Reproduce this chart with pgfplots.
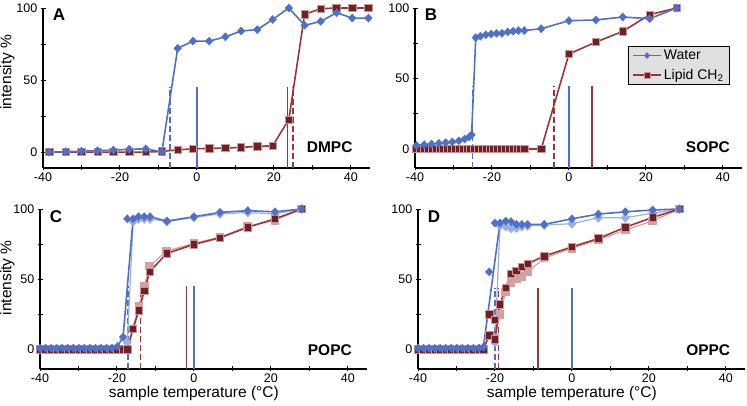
\documentclass[border=0pt]{standalone}
\usepackage{fontspec}
\setmainfont{Liberation Sans}
\usepackage{pgfplots}
\pgfplotsset{compat=1.18}

\definecolor{wblue}{RGB}{80,112,200}
\definecolor{lred}{RGB}{158,52,52}
\definecolor{sqred}{RGB}{112,32,36}
\definecolor{sqedge}{RGB}{205,150,150}
\definecolor{gblue}{RGB}{155,175,222}
\definecolor{gred}{RGB}{214,160,160}

\tikzset{
  letter/.style={anchor=north west, inner sep=0pt, font=\bfseries\fontsize{17}{20}\selectfont},
  lipname/.style={anchor=base east, inner sep=0pt, font=\bfseries\fontsize{15.5}{18}\selectfont},
}

\pgfplotsset{
  panel/.style={
    scale only axis, width=327pt, height=160pt,
    anchor=south west,
    xmin=-40, xmax=45, ymax=100,
    axis x line*=bottom, axis y line*=left,
    axis line style={-, line width=1.1pt},
    every tick/.style={black, line width=0.9pt},
    tick align=center, major tick length=5pt, minor tick length=5pt,
    xtick={-40,-20,0,20,40}, minor xtick={-30,-10,10,30},
    ytick={0,50,100}, minor ytick={25,75},
    tick label style={font=\fontsize{12.5}{14}\selectfont},
    /pgf/number format/assume math mode=true,
    xticklabel style={anchor=north, inner sep=0pt, yshift=-2pt},
    yticklabel style={anchor=east, inner sep=0pt, xshift=-3pt},
    label style={font=\fontsize{15.5}{18}\selectfont},
    ylabel style={anchor=south, inner sep=0pt},
    xlabel style={at={(axis description cs:0.4706,0)}, anchor=north, inner sep=0pt, yshift=-17pt},
    clip=false,
  },
  water/.style={wblue, line width=1.6pt, mark=diamond*, mark size=4.1pt,
    mark options={solid, xscale=1.25, fill=wblue, draw=wblue, line width=0.3pt}},
  lipid/.style={lred, line width=1.6pt, mark=square*, mark size=3.7pt,
    mark options={solid, fill=sqred, draw=sqedge, line width=0.7pt}},
  gwater/.style={gblue, line width=1.2pt, mark=diamond*, mark size=4.1pt,
    mark options={solid, xscale=1.25, fill=gblue, draw=gblue}},
  glipid/.style={gred, line width=1.2pt, mark=square*, mark size=3.7pt,
    mark options={solid, fill=gred, draw=gred}},
  vline/.style={line width=1.3pt, forget plot},
  vdash/.style={line width=1.3pt, dash pattern=on 6pt off 3pt, forget plot},
}

\begin{document}
\begin{tikzpicture}
\useasboundingbox (0,0) rectangle (747pt,406pt);

% ===== A: DMPC =====
\begin{axis}[panel, at={(43pt,238pt)}, ymin=-11,
  ylabel={intensity \%}, ylabel style={at={(axis description cs:-0.086,0.6)}}]
\addplot[vdash, wblue] coordinates {(-7,-11) (-7,45.5)};
\addplot[vline, wblue] coordinates {(0,-11) (0,45.5)};
\addplot[vline, lred] coordinates {(23.5,-11) (23.5,45.5)};
\addplot[vdash, lred] coordinates {(25,-11) (25,45.5)};
\addplot[lipid] coordinates {(-38.4,0) (-34.1,0) (-30,0) (-25.8,0) (-21.7,0) (-17.6,0) (-13.3,0) (-9.1,0.5) (-5,1.6) (-1,2.3) (3.2,2.6) (7.4,2.8) (11.5,3.3) (15.7,4) (19.7,4.4) (23.9,22.6) (28,95.6) (32.2,99.5) (36.3,100) (40.4,100) (44.6,100)};
\addplot[water] coordinates {(-38.4,0) (-34.1,0.3) (-30,0.7) (-25.8,1) (-21.7,1.4) (-17.6,2) (-13.3,2.3) (-9.1,0.2) (-5,72) (-1,77) (3.2,77) (7.4,80) (11.5,84) (15.7,85) (19.7,92) (23.9,100) (28,88) (32.2,90.7) (36.3,96.7) (40.4,93) (44.6,93)};
\node[letter] at (axis cs:-37.5,99.5) {A};
\node[lipname] at (axis cs:40.5,-0.5) {DMPC};
\end{axis}

% ===== B: SOPC =====
\begin{axis}[panel, at={(415pt,238pt)}, ymin=-13.5,
  reverse legend,
  legend style={at={(axis description cs:0.651,0.765)}, anchor=north west,
    fill=black!12, draw=black, line width=0.8pt,
    font=\fontsize{14}{16}\selectfont, inner xsep=4pt, inner ysep=2pt,
    row sep=4pt, cells={anchor=west}},
  legend image code/.code={\draw[mark repeat=2,mark phase=2,#1] plot coordinates {(0pt,0pt) (14pt,0pt) (28pt,0pt)};},
  legend image post style={mark size=3pt}]
\addplot[vdash, wblue] coordinates {(-25,-13.5) (-25,45)};
\addplot[vdash, lred] coordinates {(-3.9,-13.5) (-3.9,45)};
\addplot[vline, wblue] coordinates {(0,-13.5) (0,45)};
\addplot[vline, lred] coordinates {(6,-13.5) (6,45)};
\addplot[lipid] coordinates {(-39.6,0) (-38.6,0) (-37.6,0) (-36.6,0) (-35.6,0) (-34.6,0) (-33.6,0) (-32.6,0) (-31.6,0) (-30.6,0) (-29.6,0) (-28.6,0) (-27.6,0) (-26.6,0) (-25.6,0) (-24.6,0) (-23.6,0) (-22.6,0) (-21.6,0) (-20.6,0) (-19.6,0) (-18.6,0) (-17.6,0) (-16.6,0) (-15.6,0) (-14.6,0) (-13.6,0) (-12.6,0) (-11.6,0) (-7.2,0) (0,67.3) (7,75.8) (14,83.4) (21,95.3) (28,100)};
\addlegendentry{Lipid CH\textsubscript{2}}
% dense run of overlapping squares reads as a solid bar
\addplot[forget plot, sqred, line width=6.8pt, line cap=rect] coordinates {(-39.6,0) (-38.6,0) (-37.6,0) (-36.6,0) (-35.6,0) (-34.6,0) (-33.6,0) (-32.6,0) (-31.6,0) (-30.6,0) (-29.6,0) (-28.6,0) (-27.6,0) (-26.6,0) (-25.6,0) (-24.6,0) (-23.6,0) (-22.6,0) (-21.6,0) (-20.6,0) (-19.6,0) (-18.6,0) (-17.6,0) (-16.6,0) (-15.6,0) (-14.6,0) (-13.6,0) (-12.6,0) (-11.6,0)};
\addplot[water] coordinates {(-39.6,2.5) (-37.6,3) (-35.7,3.5) (-33.8,4) (-32,4.5) (-30.3,5) (-28.6,5.8) (-27.1,7) (-25.9,8.5) (-25.3,10) (-24.2,79) (-23,80) (-21.6,81) (-20.2,81.5) (-18.8,82) (-17.4,82) (-15.9,83) (-14.5,83.5) (-13.1,84) (-11.6,84) (-7.2,85.3) (0,91) (7,91.5) (14,93.6) (21,92.4) (28,100)};
\addlegendentry{Water}
\node[letter] at (axis cs:-37.5,99.5) {B};
\node[lipname] at (axis cs:41.9,-2.8) {SOPC};
\end{axis}

% ===== C: POPC =====
\begin{axis}[panel, at={(40pt,37pt)}, ymin=-14,
  ylabel={intensity \%}, ylabel style={at={(axis description cs:-0.077,0.57)}},
  xlabel={sample temperature (°C)}]
\addplot[vdash, wblue] coordinates {(-17.1,-14) (-17.1,45)};
\addplot[vdash, lred] coordinates {(-13.9,-14) (-13.9,45)};
\addplot[vline, lred] coordinates {(-2,-14) (-2,45)};
\addplot[vline, wblue] coordinates {(0,-14) (0,45)};
\addplot[glipid, forget plot] coordinates {(-17.3,0) (-14.3,30.7) (-12.9,45) (-11.5,59.5) (-7.1,70) (0,75.5) (6.8,80) (14,87.5) (21.1,92) (28,100)};
\addplot[gwater, forget plot] coordinates {(-17.3,5) (-15.8,91) (-14.4,93) (-12.9,93) (-11.4,93) (-7,91) (0,94) (6.8,96.5) (14,97.5) (21.1,96.5) (28,100)};
\addplot[lipid] coordinates {(-40,0) (-38.56,0) (-37.12,0) (-35.68,0) (-34.24,0) (-32.8,0) (-31.36,0) (-29.92,0) (-28.48,0) (-27.04,0) (-25.6,0) (-24.16,0) (-22.72,0) (-21.28,0) (-19.9,0) (-18.4,0) (-17.3,0) (-15.8,14.8) (-14.3,27.8) (-12.9,41.6) (-11.5,55.2) (-7.1,68.3) (0,74.8) (6.8,79.5) (14,87) (21.1,93) (28,100)};
\addplot[water] coordinates {(-40,0.8) (-38.56,0.8) (-37.12,0.8) (-35.68,0.8) (-34.24,0.8) (-32.8,0.8) (-31.36,0.8) (-29.92,0.8) (-28.48,0.8) (-27.04,0.8) (-25.6,0.8) (-24.16,0.8) (-22.72,0.8) (-21.28,1) (-19.9,2) (-18.4,8.8) (-15.8,93) (-14.4,94.5) (-12.9,94.5) (-11.4,94.5) (-7,91.4) (0,94.5) (6.8,97.6) (14,98.8) (21.1,98) (28,100)};
\addplot[water, only marks] coordinates {(-17.3,93)};
\node[letter] at (axis cs:-37.5,99) {C};
\node[lipname] at (axis cs:41.1,-4.3) {POPC};
\end{axis}

% ===== D: OPPC =====
\begin{axis}[panel, at={(418pt,37pt)}, ymin=-14,
  xlabel={sample temperature (°C)}]
\addplot[vdash, wblue] coordinates {(-20,-14) (-20,44)};
\addplot[vdash, lred] coordinates {(-19,-14) (-19,44)};
\addplot[vline, lred] coordinates {(-8.8,-14) (-8.8,44)};
\addplot[vline, wblue] coordinates {(0,-14) (0,44)};
\addplot[glipid] coordinates {(-23,0) (-21.5,10) (-20,8) (-18.7,25) (-17.2,41) (-15.8,47.6) (-14.4,50) (-13,52) (-11.5,55) (-7.2,65) (0,72) (6.9,78) (13.9,85) (21,91.5) (28,100)};
\addplot[gwater] coordinates {(-20,5) (-18.7,88) (-17.2,87.6) (-15.8,86.2) (-14.4,86.5) (-13,87.5) (-11.5,88) (-7.2,88.5) (0,89.5) (6.9,93.8) (13.9,93.8) (21,97) (28,100)};
\addplot[lipid] coordinates {(-40,0) (-38.56,0) (-37.12,0) (-35.68,0) (-34.24,0) (-32.8,0) (-31.36,0) (-29.92,0) (-28.48,0) (-27.04,0) (-25.6,0) (-24.16,0) (-23,0) (-21.5,10) (-20,7) (-18.7,32) (-17.2,44) (-15.8,53.6) (-14.4,56) (-13,58.6) (-11.5,61) (-7.2,66.4) (0,73) (6.9,79) (13.9,87) (21,94) (28,100)};
\addplot[lipid, only marks] coordinates {(-21.5,25) (-20,21.2)};
\addplot[water] coordinates {(-40,0.8) (-38.56,0.8) (-37.12,0.8) (-35.68,0.8) (-34.24,0.8) (-32.8,0.8) (-31.36,0.8) (-29.92,0.8) (-28.48,0.8) (-27.04,0.8) (-25.6,0.8) (-24.16,0.8) (-23,1.6) (-18.7,90) (-17.2,91.4) (-15.8,91) (-14.4,89) (-13,89) (-11.5,89) (-7.2,89) (0,93) (6.9,96.4) (13.9,98) (21,99.3) (28,100)};
\addplot[water, only marks] coordinates {(-21.5,55.2) (-20,90)};
\node[letter] at (axis cs:-37.5,99) {D};
\node[lipname] at (axis cs:41.2,-4.3) {OPPC};
\end{axis}
\end{tikzpicture}
\end{document}
